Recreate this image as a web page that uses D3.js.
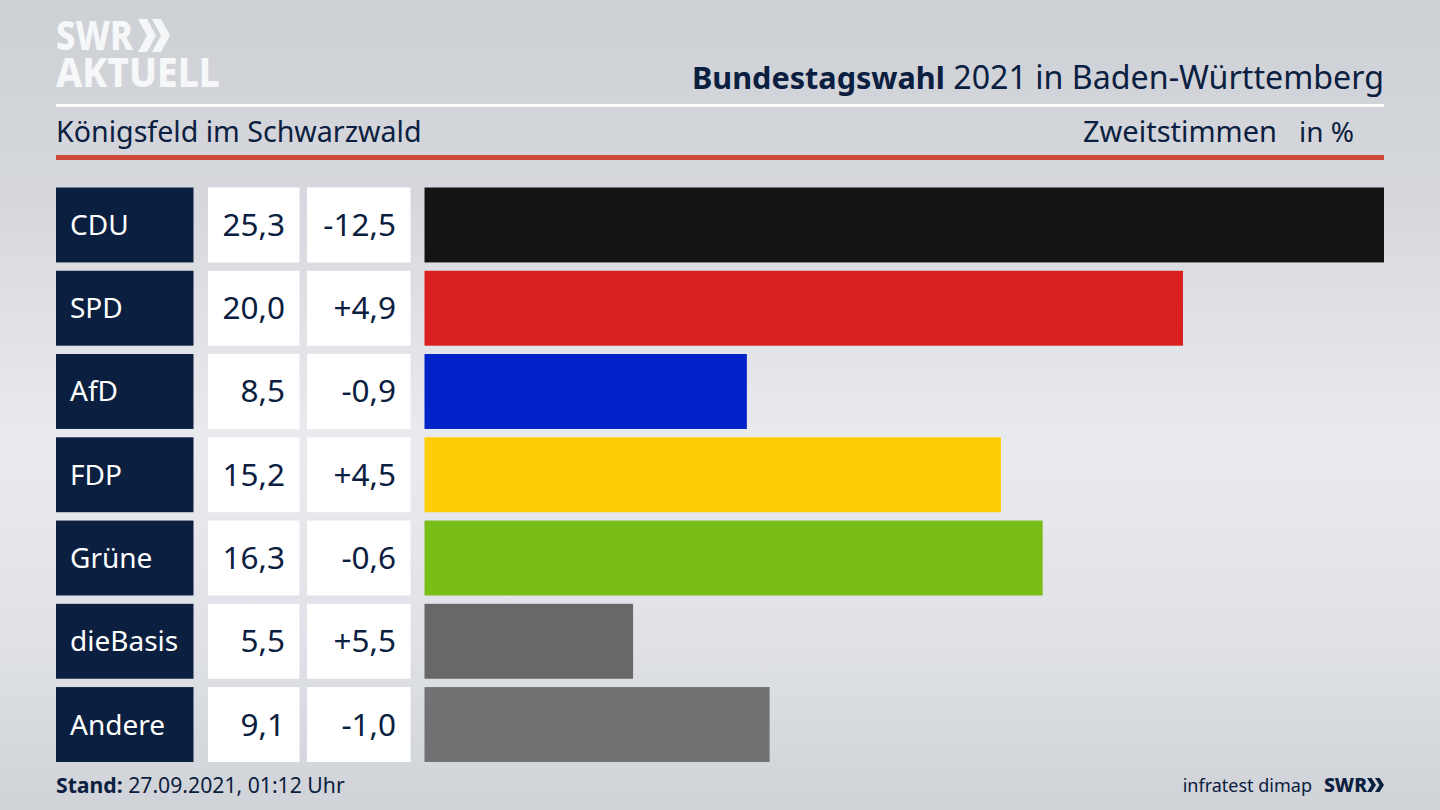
<!DOCTYPE html>
<html><head><meta charset="utf-8">
<script src="https://cdn.jsdelivr.net/npm/d3@7"></script>
<style>html,body{margin:0;padding:0;background:#d8dade;overflow:hidden}svg{display:block}text{font-family:"Noto Sans",sans-serif}</style>
</head><body><svg id="c" width="1440" height="810"></svg>
<script>
const parties=["CDU","SPD","AfD","FDP","Grüne","dieBasis","Andere"];
const values=[25.3,20.0,8.5,15.2,16.3,5.5,9.1];
const valueLabels=["25,3","20,0","8,5","15,2","16,3","5,5","9,1"];
const diffLabels=["-12,5","+4,9","-0,9","+4,5","-0,6","+5,5","-1,0"];
const colors=["#141414","#da201f","#0022c8","#ffcc08","#79bd19","#686868","#717274"];
const navy="#0b2040";
const svg=d3.select("#c");
const defs=svg.append("defs");
const g=defs.append("linearGradient").attr("id","bg").attr("x1",0).attr("y1",0).attr("x2",0).attr("y2",1);
g.append("stop").attr("offset","0%").attr("stop-color","#cdd0d5");
g.append("stop").attr("offset","25%").attr("stop-color","#d6d8dd");
g.append("stop").attr("offset","55%").attr("stop-color","#e9ebef");
g.append("stop").attr("offset","80%").attr("stop-color","#dfe1e6");
g.append("stop").attr("offset","100%").attr("stop-color","#cfd2d7");
svg.append("rect").attr("width",1440).attr("height",810).attr("fill","url(#bg)");
const x=d3.scaleLinear().domain([0,25.3]).range([424.5,1384]);
const y=d3.scaleBand().domain(parties).range([187.5,762]).paddingInner(0.1).paddingOuter(0);
const rows=svg.selectAll("g.row").data(parties).join("g").attr("class","row");
rows.append("rect").attr("x",56).attr("width",137.5).attr("y",d=>y(d)).attr("height",y.bandwidth()).attr("fill",navy);
rows.append("rect").attr("x",208).attr("width",91.5).attr("y",d=>y(d)).attr("height",y.bandwidth()).attr("fill","#fff");
rows.append("rect").attr("x",307).attr("width",103.5).attr("y",d=>y(d)).attr("height",y.bandwidth()).attr("fill","#fff");
rows.append("rect").attr("x",x(0)).attr("y",d=>y(d)).attr("height",y.bandwidth()).attr("width",(d,i)=>x(values[i])-x(0)).attr("fill",(d,i)=>colors[i]);
rows.append("text").attr("x",70).attr("y",d=>y(d)+y.bandwidth()/2+10).attr("font-size",28).attr("fill","#fff").text(d=>d);
rows.append("text").attr("x",285).attr("text-anchor","end").attr("y",d=>y(d)+y.bandwidth()/2+11).attr("font-size",31.5).attr("fill",navy).text((d,i)=>valueLabels[i]);
rows.append("text").attr("x",396).attr("text-anchor","end").attr("y",d=>y(d)+y.bandwidth()/2+11).attr("font-size",31.5).attr("fill",navy).text((d,i)=>diffLabels[i]);
svg.append("rect").attr("x",56).attr("y",104).attr("width",1328).attr("height",3).attr("fill","#fff");
svg.append("rect").attr("x",56).attr("y",155).attr("width",1328).attr("height",5).attr("fill","#cf4a36");
const t=svg.append("text").attr("x",1384).attr("y",89).attr("text-anchor","end").attr("fill",navy);
t.append("tspan").attr("font-weight",700).attr("font-size",30.6).text("Bundestagswahl");
t.append("tspan").attr("font-size",32.2).text(" 2021 in Baden-Württemberg");
svg.append("text").attr("x",56).attr("y",142).attr("font-size",28.6).attr("fill",navy).text("Königsfeld im Schwarzwald");
svg.append("text").attr("x",1277).attr("y",142).attr("text-anchor","end").attr("font-size",29).attr("fill",navy).text("Zweitstimmen");
svg.append("text").attr("x",1354).attr("y",142).attr("text-anchor","end").attr("font-size",28).attr("fill",navy).text("in %");
const s=svg.append("text").attr("x",56).attr("y",793).attr("font-size",21.2).attr("fill",navy);
s.append("tspan").attr("font-weight",700).text("Stand:");
s.append("tspan").text(" 27.09.2021, 01:12 Uhr");
svg.append("text").attr("x",1312).attr("y",792).attr("text-anchor","end").attr("font-size",18).attr("fill",navy).text("infratest dimap");
function logo(txt,xp,yp,len,fs,fill){svg.append("text").attr("x",xp).attr("y",yp).attr("font-size",fs).attr("font-weight",800).attr("fill",fill).attr("textLength",len).attr("lengthAdjust","spacingAndGlyphs").text(txt);}
function chev(x0,yt,yb,w,fill){const m=(yt+yb)/2;const th=w*0.5;
 svg.append("path").attr("d",`M${x0},${yt}L${x0+th},${yt}L${x0+w},${m}L${x0+th},${yb}L${x0},${yb}L${x0+w-th},${m}Z`).attr("fill",fill);}
logo("SWR",56,50,77,41,"#f6f7f8");
chev(138,19,52,18,"#f6f7f8");chev(152,19,52,18,"#f6f7f8");
logo("AKTUELL",56,87,164,41,"#f6f7f8");
logo("SWR",1324,792,43,19,navy);
chev(1367,778,792,9,navy);chev(1375,778,792,9,navy);
</script></body></html>
